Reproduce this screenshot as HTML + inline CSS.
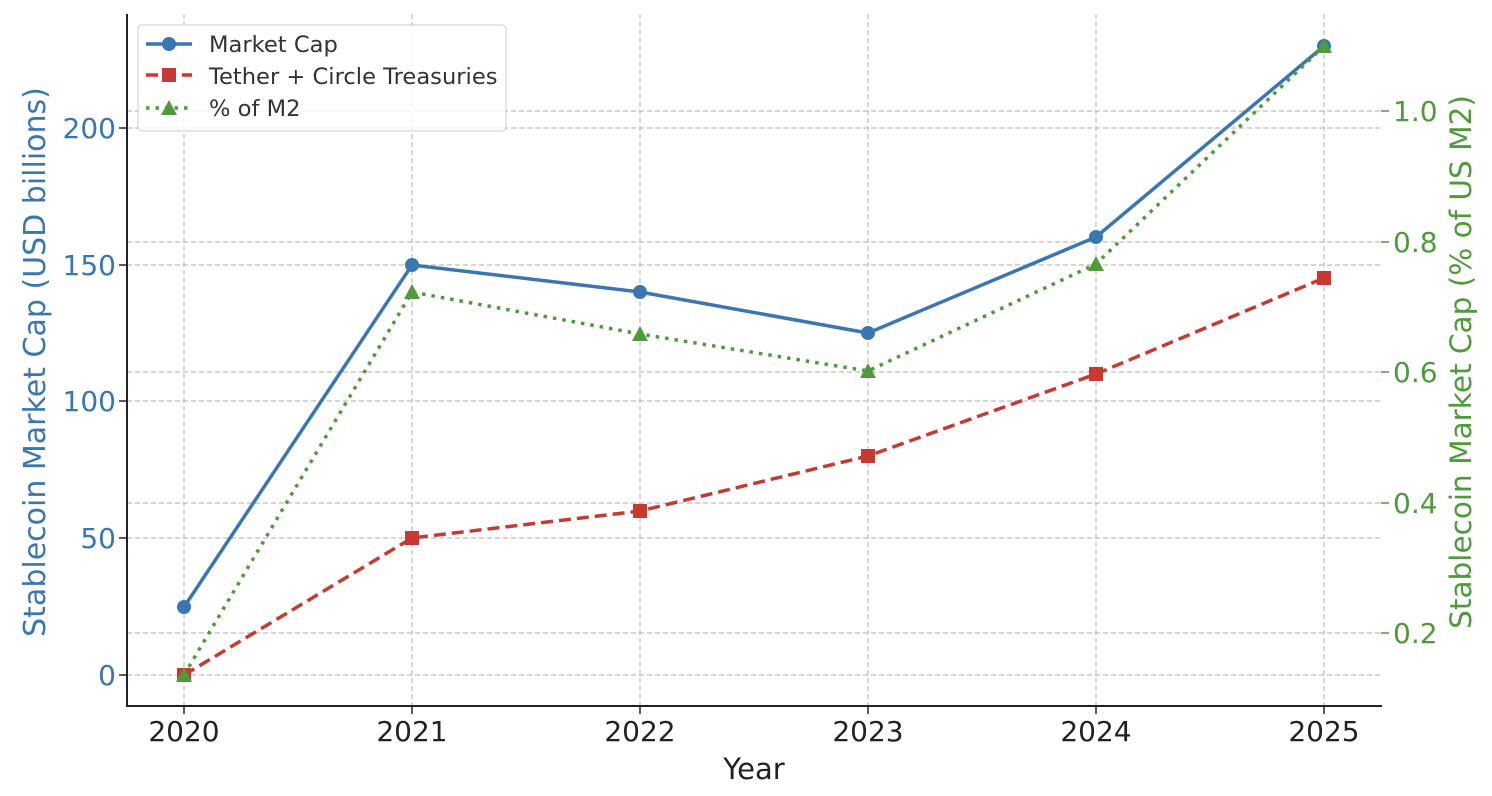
<!DOCTYPE html>
<html><head><meta charset="utf-8"><style>body{margin:0;background:#fff}svg{display:block}text{font-family:"DejaVu Sans","Liberation Sans",sans-serif}</style></head>
<body>
<svg width="1492" height="796" viewBox="0 0 1492 796" xmlns="http://www.w3.org/2000/svg">
<g stroke="#bdbdbd" stroke-width="1.2" stroke-dasharray="5,3">
<line x1="127" x2="1381" y1="675" y2="675"/><line x1="127" x2="1381" y1="538" y2="538"/><line x1="127" x2="1381" y1="401" y2="401"/><line x1="127" x2="1381" y1="265" y2="265"/><line x1="127" x2="1381" y1="128" y2="128"/>
<line x1="127" x2="1381" y1="633" y2="633"/><line x1="127" x2="1381" y1="503" y2="503"/><line x1="127" x2="1381" y1="372" y2="372"/><line x1="127" x2="1381" y1="242" y2="242"/><line x1="127" x2="1381" y1="111" y2="111"/>
<line x1="184" x2="184" y1="14" y2="706"/><line x1="412" x2="412" y1="14" y2="706"/><line x1="640" x2="640" y1="14" y2="706"/><line x1="868" x2="868" y1="14" y2="706"/><line x1="1096" x2="1096" y1="14" y2="706"/><line x1="1324" x2="1324" y1="14" y2="706"/>
</g>
<g stroke="#222" stroke-width="2"><line x1="127" y1="14" x2="127" y2="707"/><line x1="126" y1="706" x2="1382" y2="706"/></g>
<g stroke="#222" stroke-width="1.5">
<line x1="119" x2="127" y1="675" y2="675"/><line x1="119" x2="127" y1="538" y2="538"/><line x1="119" x2="127" y1="401" y2="401"/><line x1="119" x2="127" y1="265" y2="265"/><line x1="119" x2="127" y1="128" y2="128"/>
<line x1="184" x2="184" y1="706" y2="714"/><line x1="412" x2="412" y1="706" y2="714"/><line x1="640" x2="640" y1="706" y2="714"/><line x1="868" x2="868" y1="706" y2="714"/><line x1="1096" x2="1096" y1="706" y2="714"/><line x1="1324" x2="1324" y1="706" y2="714"/>
</g>
<g stroke="#4f9a3a" stroke-width="1.5">
<line x1="1381" x2="1389" y1="633" y2="633"/><line x1="1381" x2="1389" y1="503" y2="503"/><line x1="1381" x2="1389" y1="372" y2="372"/><line x1="1381" x2="1389" y1="242" y2="242"/><line x1="1381" x2="1389" y1="111" y2="111"/>
</g>
<g font-size="28" fill="#3a76b0" text-anchor="end">
<text x="116" y="685">0</text><text x="116" y="548">50</text><text x="116" y="411">100</text><text x="116" y="275">150</text><text x="116" y="138">200</text></g>
<g font-size="28" fill="#4f9a3a">
<text x="1393" y="643">0.2</text><text x="1393" y="513">0.4</text><text x="1393" y="382">0.6</text><text x="1393" y="252">0.8</text><text x="1393" y="121">1.0</text></g>
<g font-size="28" fill="#222" text-anchor="middle">
<text x="184" y="741">2020</text><text x="412" y="741">2021</text><text x="640" y="741">2022</text><text x="868" y="741">2023</text><text x="1096" y="741">2024</text><text x="1324" y="741">2025</text>
<text x="754" y="779" font-size="29">Year</text></g>
<text transform="translate(45,362) rotate(-90)" font-size="30" fill="#3a76b0" text-anchor="middle">Stablecoin Market Cap (USD billions)</text>
<text transform="translate(1471,362) rotate(-90)" font-size="29.5" fill="#4f9a3a" text-anchor="middle">Stablecoin Market Cap (% of US M2)</text>
<polyline fill="none" stroke="#3a76b0" stroke-width="3.5" points="184,607 412,265 640,292 868,333 1096,237 1324,46"/>
<g fill="#3a76b0"><circle cx="184" cy="607" r="7"/><circle cx="412" cy="265" r="7"/><circle cx="640" cy="292" r="7"/><circle cx="868" cy="333" r="7"/><circle cx="1096" cy="237" r="7"/><circle cx="1324" cy="46" r="7"/></g>
<polyline fill="none" stroke="#c73a32" stroke-width="3.5" stroke-dasharray="12,6" points="184,675 412,538 640,511 868,456 1096,374 1324,278"/>
<g fill="#c73a32"><rect x="177" y="668" width="14" height="14"/><rect x="405" y="531" width="14" height="14"/><rect x="633" y="504" width="14" height="14"/><rect x="861" y="449" width="14" height="14"/><rect x="1089" y="367" width="14" height="14"/><rect x="1317" y="271" width="14" height="14"/></g>
<polyline fill="none" stroke="#4f9a3a" stroke-width="3.5" stroke-dasharray="3.5,6" points="184,675 412,292 640,334 868,371 1096,264 1324,46"/>
<g fill="#4f9a3a"><polygon points="184,667 192,682 176,682"/><polygon points="412,284 420,299 404,299"/><polygon points="640,326 648,341 632,341"/><polygon points="868,363 876,378 860,378"/><polygon points="1096,256 1104,271 1088,271"/><polygon points="1324,38 1332,53 1316,53"/></g>
<rect x="138" y="25" width="368" height="106" rx="4" fill="#fff" fill-opacity="0.8" stroke="#cccccc"/>
<line x1="146" x2="192" y1="44" y2="44" stroke="#3a76b0" stroke-width="3.5"/><circle cx="169" cy="44" r="7" fill="#3a76b0"/>
<line x1="146" x2="192" y1="75" y2="75" stroke="#c73a32" stroke-width="3.5" stroke-dasharray="12,6"/><rect x="162" y="68" width="14" height="14" fill="#c73a32"/>
<line x1="146" x2="192" y1="108" y2="108" stroke="#4f9a3a" stroke-width="3.5" stroke-dasharray="3.5,6"/><polygon points="169,100 177,115 161,115" fill="#4f9a3a"/>
<g font-size="22.6" fill="#333"><text x="209" y="52">Market Cap</text><text x="209" y="84">Tether + Circle Treasuries</text><text x="209" y="116">% of M2</text></g>
</svg>
</body></html>
